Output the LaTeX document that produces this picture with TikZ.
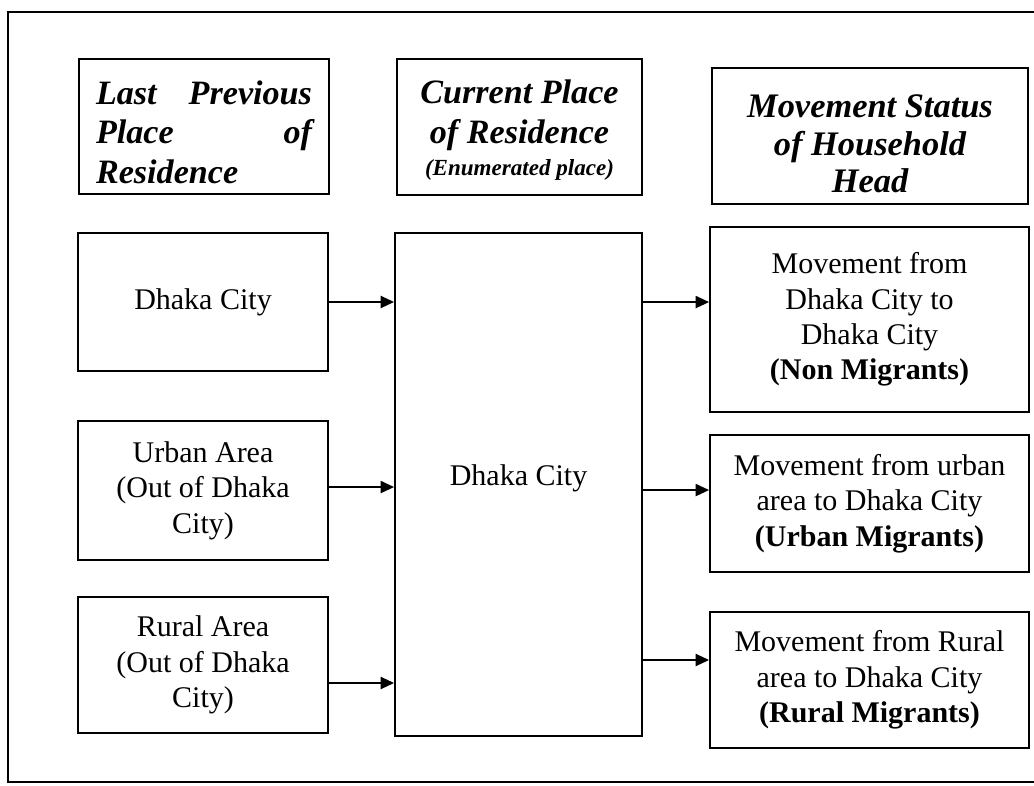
\documentclass[tikz,border=0pt]{standalone}
\usepackage{fontspec}
\setmainfont{Liberation Serif}
\usetikzlibrary{arrows.meta}
\begin{document}
\begin{tikzpicture}[x=0.75pt,y=-0.75pt,
  box/.style={draw, line width=1.4pt, inner sep=0pt, align=center},
  body/.style={font=\fontsize{22.5}{26.5}\selectfont},
  headtxt/.style={inner sep=0pt, align=center, font=\fontsize{25.6}{29.6}\selectfont\bfseries\itshape},
  arr/.style={line width=1.4pt,-{Triangle[length=10pt,width=9pt]}}]
\useasboundingbox (0,0) rectangle (1034,785);
\draw[line width=1.4pt] (1034,12) -- (8,12) -- (8,782) -- (1034,782);
% headers
\node[box, minimum width=250*0.75pt, minimum height=135*0.75pt] (h1) at (204,126.5) {};
\node[headtxt, text width=216*0.75pt, align=justify] (h1t) at (204,132)
  {Last Previous\linebreak Place of\linebreak Residence};
\node[box, minimum width=245*0.75pt, minimum height=136*0.75pt] (h2) at (519.5,127) {};
\node[headtxt] (h2t) at (519.5,130)
  {Current Place\\ of Residence\\[-5.5pt] {\fontsize{17.3}{20}\selectfont (Enumerated place)}};
\node[box, minimum width=316*0.75pt, minimum height=136*0.75pt] (h3) at (870,136) {};
\node[headtxt, font=\fontsize{25.8}{28}\selectfont\bfseries\itshape] (h3t) at (870,144)
  {Movement Status\\ of Household\\ Head};
% left column
\node[box, body, minimum width=250*0.75pt, minimum height=138*0.75pt] (d1) at (203,302) {Dhaka City};
\node[box, body, minimum width=250*0.75pt, minimum height=139*0.75pt] (u) at (203,490.5) {Urban Area\\(Out of Dhaka\\City)};
\node[box, body, minimum width=250*0.75pt, minimum height=136*0.75pt] (r) at (203,665) {Rural Area\\(Out of Dhaka\\City)};
% centre
\node[box, minimum width=247*0.75pt, minimum height=503*0.75pt] (c) at (518.5,484.5) {};
\node[body, anchor=base, inner sep=0pt] (ct) at (518.5,485) {Dhaka City};
% right column
\node[box, body, minimum width=319*0.75pt, minimum height=185*0.75pt] (b1) at (869.5,319.5)
  {Movement from\\Dhaka City to\\Dhaka City\\\textbf{(Non Migrants)}};
\node[box, body, minimum width=319*0.75pt, minimum height=137*0.75pt] (b2) at (869.5,503.5)
  {Movement from urban\\area to Dhaka City\\\textbf{(Urban Migrants)}};
\node[box, body, minimum width=319*0.75pt, minimum height=136*0.75pt] (b3) at (869.5,680)
  {Movement from Rural\\area to Dhaka City\\\textbf{(Rural Migrants)}};
% arrows in
\draw[arr] (d1.east) -- (d1.east -| c.west);
\path ([yshift=2.6pt]u.east) coordinate (l2);
\draw[arr] (l2) -- (l2 -| c.west);
\path ([yshift=-13.5pt]r.east) coordinate (l3);
\draw[arr] (l3) -- (l3 -| c.west);
% arrows out
\path ([yshift=13.1pt]b1.west) coordinate (t1);
\draw[arr] (c.east |- t1) -- (t1);
\path ([yshift=10.1pt]b2.west) coordinate (t2);
\draw[arr] (c.east |- t2) -- (t2);
\path ([yshift=15pt]b3.west) coordinate (t3);
\draw[arr] (c.east |- t3) -- (t3);
\end{tikzpicture}
\end{document}
